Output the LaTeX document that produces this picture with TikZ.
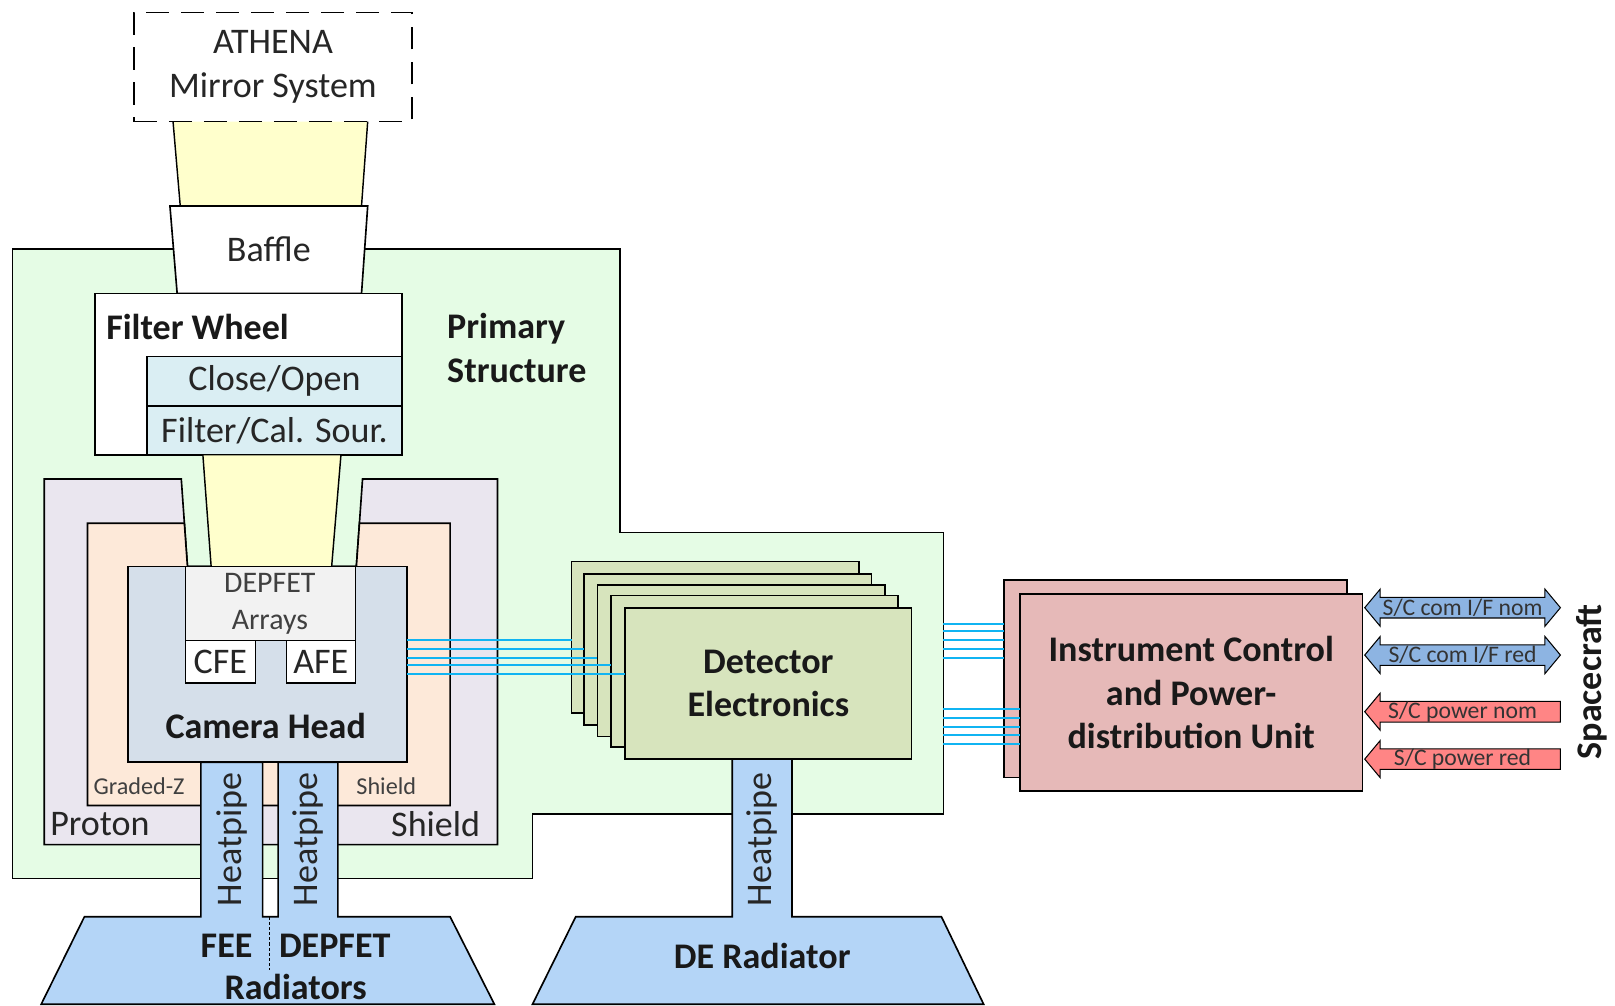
\documentclass[tikz,border=0pt]{standalone}
\usepackage{fontspec}
\setmainfont{Carlito}
\definecolor{psgreen}{HTML}{E5FCE5}
\definecolor{coney}{HTML}{FFFFCC}
\definecolor{fblue}{HTML}{DAEEF3}
\definecolor{lav}{HTML}{EAE6EF}
\definecolor{peach}{HTML}{FDE9D9}
\definecolor{camb}{HTML}{D5DFEA}
\definecolor{depg}{HTML}{F2F2F2}
\definecolor{hpb}{HTML}{B4D5F7}
\definecolor{deg}{HTML}{D7E4BD}
\definecolor{icp}{HTML}{E6B9B8}
\definecolor{arb}{HTML}{8DB4E2}
\definecolor{arr}{HTML}{FF8585}
\definecolor{sigc}{HTML}{10B4F2}
\newcommand\fA{\fontsize{35}{42.5}\selectfont}
\newcommand\fB{\fontsize{29}{36}\selectfont}
\newcommand\fC{\fontsize{23.5}{28}\selectfont}
\newcommand\fD{\fontsize{23}{26}\selectfont}
\newcommand\dblarrow[1]{\path[arrsh, fill=arb] (1325,#1) -- (1340,#1-18) -- (1340,#1-10) -- (1500,#1-10) -- (1500,#1-18) -- (1515,#1) -- (1500,#1+18) -- (1500,#1+10) -- (1340,#1+10) -- (1340,#1+18) -- cycle;}
\newcommand\pwrarrow[1]{\path[arrsh, fill=arr] (1325,#1) -- (1340,#1-18) -- (1340,#1-10) -- (1515,#1-10) -- (1515,#1+10) -- (1340,#1+10) -- (1340,#1+18) -- cycle;}
\tikzset{
  bx/.style={draw=black, line width=1.6pt, inner sep=0pt, outer sep=0pt, anchor=north west},
  shp/.style={draw=black, line width=1.6pt, line join=miter},
  lbl/.style={inner sep=0pt, font=\fA, text=black!85},
  blbl/.style={inner sep=0pt, font=\fA\bfseries, text=black!90},
  sig/.style={draw=sigc, line width=2pt},
  arrsh/.style={draw=black, line width=1pt, line join=miter},
  alab/.style={inner sep=0pt, font=\fD, text=black!80},
}
\begin{document}
\begin{tikzpicture}[x=1pt,y=-1pt]
\useasboundingbox (0,0) rectangle (1568,976);
% primary structure
\path[shp, fill=psgreen] (12,242) -- (602,242) -- (602,517) -- (916,517) -- (916,790) -- (517,790) -- (517,853) -- (12,853) -- cycle;
% upper light cone
\fill[coney] (168,118) -- (357,118) -- (351,200) -- (175,200) -- cycle;
\draw[line width=1.4pt] (168,118) -- (175,200) (357,118) -- (351,200);
% ATHENA mirror
\node[bx, draw=black, dash pattern=on 22pt off 12pt, minimum width=270pt, minimum height=106pt, align=center, font=\fA, text=black!85] (athena) at (130,12) {ATHENA\\Mirror System};
% baffle
\path[shp, fill=white] (165,200) -- (357,200) -- (351,285) -- (172,285) -- cycle;
\node[lbl] (baffle) at (261,242) {Baffle};
% filter wheel
\node[bx, fill=white, minimum width=298pt, minimum height=157pt] (fw) at (92,285) {};
\node[blbl, anchor=west] (fwl) at (103,317) {Filter Wheel};
\node[bx, fill=fblue, minimum width=247pt, minimum height=48pt, font=\fA, text=black!85] (co) at (143,346) {Close/Open};
\node[bx, fill=fblue, minimum width=247pt, minimum height=48pt, font=\fA, text=black!85] (fc) at (143,394) {Filter/Cal. Sour.};
\node[blbl, anchor=west, align=left] (psl) at (434,338) {Primary\\Structure};
% shields
\path[shp, fill=lav] (43,465) -- (176,465) -- (182,550) -- (346,550) -- (352,465) -- (483,465) -- (483,820) -- (43,820) -- cycle;
\path[shp, fill=peach] (85,508) -- (179,508) -- (182,550) -- (346,550) -- (349,508) -- (437,508) -- (437,782) -- (85,782) -- cycle;
% lower light cone
\fill[coney] (197,442) -- (331,442) -- (322,550) -- (205,550) -- cycle;
\draw[line width=1.4pt] (197,442) -- (205,550) (331,442) -- (322,550);
% camera head
\node[bx, fill=camb, minimum width=271pt, minimum height=190pt] (camhead) at (124,550) {};
\node[bx, fill=depg, minimum width=165pt, minimum height=72pt] (dep) at (180,550) {};
\node[inner sep=0pt, font=\fB, text=black!75, align=center] (depl) at (262,586) {DEPFET\\Arrays};
\node[bx, fill=white, minimum width=68pt, minimum height=41pt, font=\fA, text=black!85] (cfe) at (180,622) {CFE};
\node[bx, fill=white, minimum width=67pt, minimum height=41pt, font=\fA, text=black!85] (afe) at (278,622) {AFE};
\node[blbl] (chl) at (258,705) {Camera Head};
% shield labels
\node[inner sep=0pt, font=\fC, text=black!75] (gz) at (135,763) {Graded-Z};
\node[inner sep=0pt, font=\fC, text=black!75] (gzs) at (375,763) {Shield};
\node[lbl] (pr) at (97,800) {Proton};
\node[lbl] (prs) at (423,800) {Shield};
% heatpipes and FEE/DEPFET radiators
\path[shp, fill=hpb] (40,975) -- (82,890) -- (195,890) -- (195,740) -- (255,740) -- (255,890) -- (270,890) -- (270,740) -- (328,740) -- (328,890) -- (437,890) -- (480,975) -- cycle;
\draw[line width=1pt, dash pattern=on 3pt off 2pt] (262,890) -- (262,942);
\node[lbl, rotate=90] (hp1) at (225,815) {Heatpipe};
\node[lbl, rotate=90] (hp2) at (299,815) {Heatpipe};
\node[blbl] (fee) at (220,918) {FEE};
\node[blbl] (depr) at (325,918) {DEPFET};
\node[blbl] (rad) at (287,958) {Radiators};
% detector electronics stack
\node[bx, fill=deg, minimum width=279pt, minimum height=147pt] (de1) at (555,545) {};
\node[bx, fill=deg, minimum width=279pt, minimum height=147pt] (de2) at (567,557) {};
\node[bx, fill=deg, minimum width=279pt, minimum height=147pt] (de3) at (580,568) {};
\node[bx, fill=deg, minimum width=279pt, minimum height=147pt] (de4) at (593,578) {};
\node[bx, fill=deg, minimum width=278pt, minimum height=147pt, font=\fA\bfseries, text=black!90, align=center] (de5) at (607,590) {Detector\\Electronics};
% signal lines camera head -> DE
\foreach \yy/\dd in {621/de1,630/de2,639/de3,646/de4,654/de5} {
  \coordinate (cl) at (395,\yy);
  \draw[sig] (cl) -- (cl -| \dd.west);
}
% DE heatpipe and radiator
\path[shp, fill=hpb] (517,975) -- (559,890) -- (711,890) -- (711,737) -- (769,737) -- (769,890) -- (914,890) -- (955,975) -- cycle;
\node[lbl, rotate=90] (hp3) at (740,815) {Heatpipe};
\node[blbl] (derad) at (740,928) {DE Radiator};
% ICPDU
\node[bx, fill=icp, minimum width=333pt, minimum height=192pt] (icb) at (975,563) {};
\node[bx, fill=icp, minimum width=333pt, minimum height=191pt, font=\fA\bfseries, text=black!90, align=center] (icf) at (990,577) {Instrument Control\\and Power-\\distribution Unit};
\foreach \yy in {606,613,621,630,639} {
  \coordinate (pl) at (916,\yy);
  \draw[sig] (pl) -- (pl -| icb.west);
}
\foreach \yy in {688,697,706,714,722} {
  \coordinate (pl) at (916,\yy);
  \draw[sig] (pl) -- (pl -| icf.west);
}
% spacecraft interfaces
\dblarrow{590}
\node[alab] (a1) at (1420,590) {S/C com I/F nom};
\dblarrow{636}
\node[alab] (a2) at (1420,636) {S/C com I/F red};
\pwrarrow{691}
\node[alab] (a3) at (1420,691) {S/C power nom};
\pwrarrow{737}
\node[alab] (a4) at (1420,737) {S/C power red};
\node[blbl, rotate=90] (sc) at (1545,662) {Spacecraft};
\end{tikzpicture}
\end{document}
